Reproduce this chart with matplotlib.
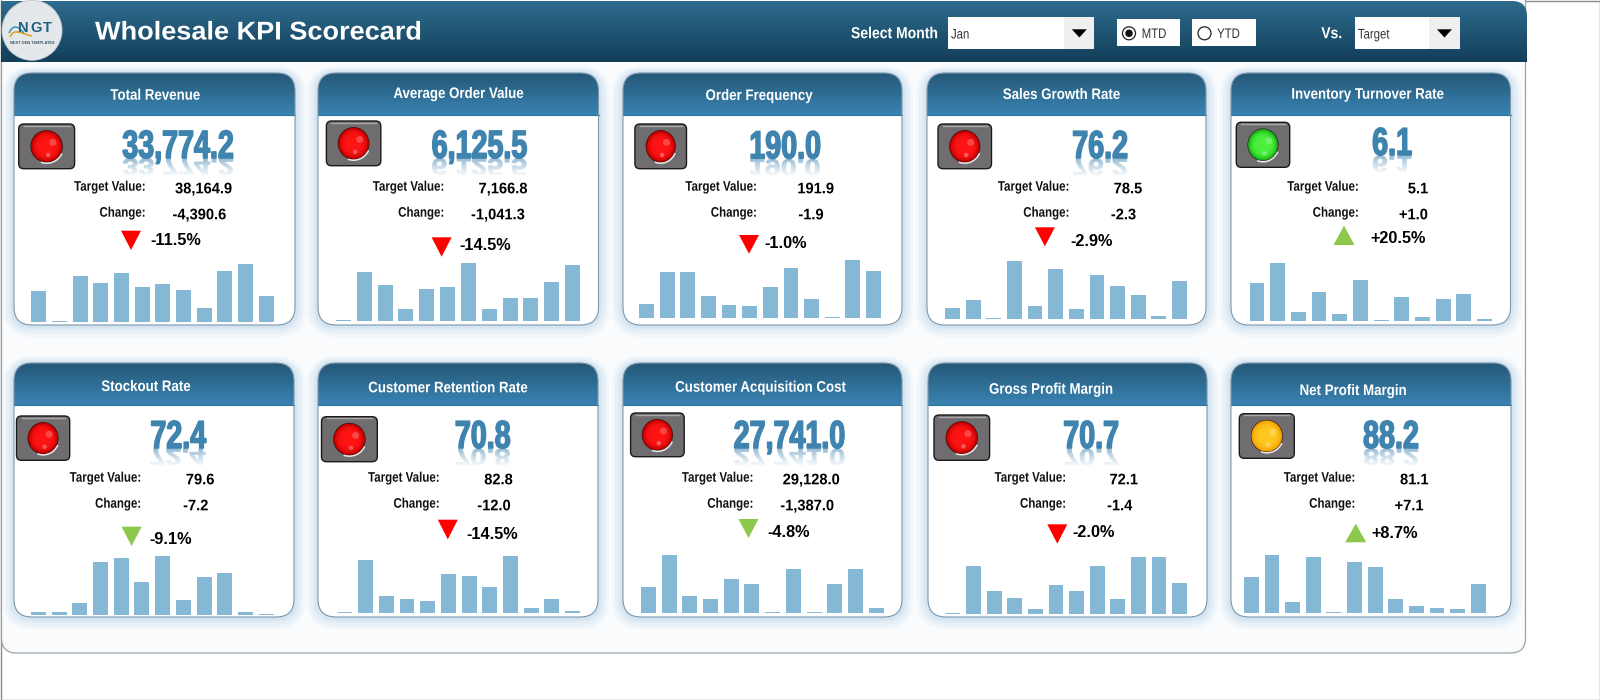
import numpy as np
import matplotlib
matplotlib.use('Agg')
import matplotlib.pyplot as plt
from matplotlib.patches import FancyBboxPatch, Ellipse, Polygon, Rectangle, PathPatch, Arc
from matplotlib.patheffects import AbstractPathEffect
from matplotlib.path import Path
from matplotlib.textpath import TextPath
from matplotlib.font_manager import FontProperties
from matplotlib.transforms import Affine2D

# data
titles = ['Total Revenue', 'Average Order Value', 'Order Frequency', 'Sales Growth Rate',
          'Inventory Turnover Rate', 'Stockout Rate', 'Customer Retention Rate',
          'Customer Acquisition Cost', 'Gross Profit Margin', 'Net Profit Margin']
actual = ['33,774.2', '6,125.5', '190.0', '76.2', '6.1', '72.4', '70.8', '27,741.0', '70.7', '88.2']
target = ['38,164.9', '7,166.8', '191.9', '78.5', '5.1', '79.6', '82.8', '29,128.0', '72.1', '81.1']
change = ['-4,390.6', '-1,041.3', '-1.9', '-2.3', '+1.0', '-7.2', '-12.0', '-1,387.0', '-1.4', '+7.1']
percent = ['-11.5%', '-14.5%', '-1.0%', '-2.9%', '+20.5%', '-9.1%', '-14.5%', '-4.8%', '-2.0%', '+8.7%']
lamp_state = ['red', 'red', 'red', 'red', 'green', 'red', 'red', 'red', 'red', 'amber']
arrow_state = ['down_red', 'down_red', 'down_red', 'down_red', 'up_green',
               'down_green', 'down_red', 'down_green', 'down_red', 'up_green']

# monthly bars
total_revenue = [94, 4, 138, 118, 149, 107, 115, 96, 44, 153, 174, 79]
avg_order_value = [3, 147, 109, 37, 96, 102, 173, 37, 68, 68, 117, 167]
order_frequency = [41, 137, 137, 65, 37, 35, 93, 148, 56, 2, 173, 141]
sales_growth = [34, 56, 3, 173, 38, 149, 30, 132, 100, 72, 9, 114]
inventory_turnover = [114, 174, 27, 86, 22, 122, 2, 71, 12, 65, 82, 5]
stockout_rate = [8, 8, 36, 159, 170, 99, 176, 44, 115, 127, 8, 3]
retention_rate = [3, 159, 50, 41, 37, 118, 111, 78, 172, 14, 43, 6]
acquisition_cost = [78, 173, 50, 41, 103, 88, 3, 131, 3, 88, 133, 14]
gross_margin = [3, 145, 71, 50, 15, 88, 71, 145, 45, 173, 173, 94]
net_margin = [109, 173, 34, 167, 3, 152, 139, 41, 22, 16, 13, 86]
bars = [total_revenue, avg_order_value, order_frequency, sales_growth, inventory_turnover,
        stockout_rate, retention_rate, acquisition_cost, gross_margin, net_margin]
months = ['Jan', 'Feb', 'Mar', 'Apr', 'May', 'Jun', 'Jul', 'Aug', 'Sep', 'Oct', 'Nov', 'Dec']

# layout in pixels
W, H = 1600, 700
card_x = [(14, 295), (318, 598.5), (623, 902), (927, 1206), (1231, 1510.5),
          (14, 294), (318, 598), (623, 902), (928, 1207), (1231, 1511)]
card_y = [(73, 115, 325)] * 5 + [(363, 405, 617)] * 5
title_xy = [(155.4, 95.7), (458.5, 94), (759, 96), (1061.5, 95), (1367.6, 94.7),
            (146, 387), (448, 388.3), (760.7, 387.7), (1051, 389.7), (1353, 391)]
lamp_box = [(18.7, 74.6, 124, 168.7), (326.4, 380.8, 121, 165.7), (634.9, 686.5, 124, 168.7),
            (938, 991.5, 124, 168.7), (1236.3, 1289.7, 122.3, 167.3), (16.5, 69.7, 416, 460.3),
            (321.5, 377.3, 416.7, 461.7), (630.6, 684.2, 413, 456.7), (934, 989.6, 415, 460.3),
            (1239.3, 1294.3, 413.7, 458.3)]
number_xy = [(178, 157.7), (479.3, 157.7), (785, 158.3), (1100, 158), (1392, 155),
             (178, 448), (482.6, 448), (789.4, 448), (1091, 448), (1391, 448)]
label_right = [146, 444.7, 757.3, 1069.8, 1359.2, 141.6, 440, 753.8, 1066.5, 1355.7]
target_x = [203.6, 502.9, 815.7, 1127.9, 1418, 200, 498.5, 811.3, 1123.7, 1414.3]
change_x = [199.4, 498, 811, 1123.5, 1413.4, 195.7, 494, 807.2, 1119.7, 1409]
arrow_xy = [(131, 230.7, 250), (441.6, 237.3, 256.7), (749, 235, 253.7), (1044.9, 227.3, 246.3),
            (1344, 225.7, 245), (131.6, 526.7, 546), (447.8, 519.7, 539.3), (748.5, 519, 538),
            (1057.3, 524.3, 543.7), (1355.7, 523.7, 542.3)]
pct_xy = [(150, 240.7), (458.9, 245.3), (764.6, 243.3), (1070.3, 241.7), (1370, 238.3),
          (148.9, 539.3), (466.5, 534.3), (766.9, 532.3), (1071.9, 532.3), (1371.7, 533.3)]
bar_span = [(31.4, 273.6, 322.3), (336, 580, 321), (639, 881, 317.7), (945, 1187, 319),
            (1249.5, 1492, 321), (31, 273.6, 615), (337.5, 580, 613), (641, 883.6, 613),
            (945.6, 1187, 614.3), (1244, 1485.7, 613)]

ARIAL = ['Liberation Sans', 'DejaVu Sans']
lamp_colors = {'red': ('#C00000', '#FF1414'), 'green': ('#16B016', '#4CF03C'), 'amber': ('#F0A000', '#FFC81E')}
BLUE = '#3F83AF'
BAR = '#85B8D5'


class Squeeze(AbstractPathEffect):
    # narrows the glyphs of a text sideways, no condensed font is installed
    def __init__(self, sx, anchor='center', bold=0):
        super().__init__()
        self.sx, self.anchor, self.bold = sx, anchor, bold

    def draw_path(self, renderer, gc, tpath, affine, rgbFace=None):
        ext = tpath.get_extents()
        c = {'left': ext.x0, 'right': ext.x1, 'center': (ext.x0 + ext.x1) / 2}[self.anchor]
        tr = Affine2D().translate(-c, 0).scale(self.sx, 1).translate(c, 0) + affine
        if self.bold:
            gc0 = renderer.new_gc()
            gc0.copy_properties(gc)
            gc0.set_foreground(rgbFace)
            gc0.set_linewidth(self.bold)
            renderer.draw_path(gc0, tpath, tr, rgbFace)
            gc0.restore()
        else:
            renderer.draw_path(gc, tpath, tr, rgbFace)


def gradient(ax, box, top, bottom, clip=None, z=2):
    x0, x1, y0, y1 = box
    c0 = np.array(matplotlib.colors.to_rgb(top))
    c1 = np.array(matplotlib.colors.to_rgb(bottom))
    t = np.linspace(0, 1, 64)[:, None, None]
    img = (c0 * (1 - t) + c1 * t)
    im = ax.imshow(img, extent=(x0, x1, y1, y0), aspect='auto', zorder=z, interpolation='bilinear')
    if clip is not None:
        im.set_clip_path(clip)
    return im


fig = plt.figure(figsize=(W / 100, H / 100), dpi=100, facecolor='white')
ax = fig.add_axes([0, 0, 1, 1])
ax.set_axis_off()

# page frame and panel
ax.add_patch(Rectangle((0.5, 0.5), W - 1, H - 1, fc='white', ec='#8A8A8A', lw=1, zorder=0))
panel = FancyBboxPatch((1.5, -30), 1524, 683, boxstyle='round,pad=0,rounding_size=15',
                       fc='#F9FBFD', ec='#9AA2A7', lw=0.9, zorder=1)
ax.add_patch(panel)

# header band, only the top right corner is round
head_path = Path([(1, 1), (1512, 1), (1527, 1), (1527, 16), (1527, 62), (1, 62), (1, 1)],
                 [Path.MOVETO, Path.LINETO, Path.CURVE3, Path.CURVE3, Path.LINETO, Path.LINETO, Path.CLOSEPOLY])
head_clip = PathPatch(head_path, fc='none', ec='none', zorder=2)
ax.add_patch(head_clip)
gradient(ax, (1, 1527, 0, 62), '#2F6C8F', '#123F5A', clip=head_clip)
ax.text(95, 32.5, 'Wholesale KPI Scorecard', color='white', fontsize=18.5, fontweight='bold',
        family=ARIAL, va='center', ha='left', zorder=5, path_effects=[Squeeze(1.055, 'left')])

# logo
ax.add_patch(Ellipse((32, 30.3), 60, 60, fc='#E4E8EA', ec='#C8CED2', lw=0.6, zorder=4))
for letter, lx in zip('NGT', (23, 36, 47)):
    ax.text(lx, 28.5, letter, color='#1F6080', fontsize=10.5, fontweight='bold', family=ARIAL,
            ha='center', va='center', zorder=6)
swoosh = Path([(10, 37), (14, 28), (20, 33), (32, 36)], [Path.MOVETO, Path.CURVE4, Path.CURVE4, Path.CURVE4])
ax.add_patch(PathPatch(swoosh, fc='none', ec='#E2A32C', lw=1.2, zorder=5))
swoosh2 = Path([(9, 33), (13, 24), (18, 26), (24, 33)], [Path.MOVETO, Path.CURVE4, Path.CURVE4, Path.CURVE4])
ax.add_patch(PathPatch(swoosh2, fc='none', ec='#2E8FA8', lw=1.0, zorder=5))
ax.text(32, 43.5, 'NEXT GEN TEMPLATES', color='#35505F', fontsize=2.8, fontweight='bold',
        family=ARIAL, ha='center', va='center', zorder=6)


# header controls
def combo(x0, x1, btn, label):
    ax.add_patch(Rectangle((x0, 17.3), x1 - x0, 31.7, fc='white', ec='none', zorder=4))
    ax.add_patch(Rectangle((btn, 17.3), x1 - btn, 31.7, fc='#EFEFEF', ec='none', zorder=4))
    c = (btn + x1) / 2
    ax.add_patch(Polygon([(c - 7.5, 29.3), (c + 7.5, 29.3), (c, 37.5)], fc='black', ec='none', zorder=5))
    ax.text(x0 + 3, 34.5, label, color='#333333', fontsize=10, family=ARIAL, ha='left', va='center',
            zorder=5, path_effects=[Squeeze(0.82, 'left')])


def radio(x0, x1, cx, label, selected):
    ax.add_patch(Rectangle((x0, 19.3), x1 - x0, 26.7, fc='white', ec='none', zorder=4))
    ax.add_patch(Ellipse((cx, 33.3), 13, 13, fc='white', ec='#222222', lw=0.9, zorder=5))
    if selected:
        ax.add_patch(Ellipse((cx, 33.3), 7.5, 7.5, fc='#111111', ec='none', zorder=6))
    ax.text(cx + 12.5, 34, label, color='#333333', fontsize=10, family=ARIAL, ha='left', va='center',
            zorder=5, path_effects=[Squeeze(0.82, 'left')])


ax.text(894.8, 33.7, 'Select Month', color='white', fontsize=11.5, fontweight='bold', family=ARIAL,
        ha='center', va='center', zorder=5, path_effects=[Squeeze(0.875)])
combo(947.9, 1094.3, 1064.4, months[0])
radio(1116.8, 1180, 1129, 'MTD', True)
radio(1191.8, 1256, 1204.5, 'YTD', False)
ax.text(1331.8, 33.7, 'Vs.', color='white', fontsize=11.5, fontweight='bold', family=ARIAL,
        ha='center', va='center', zorder=5, path_effects=[Squeeze(0.87)])
combo(1354.8, 1459.6, 1429.3, 'Target')


def draw_lamp(box, state):
    x0, x1, y0, y1 = box
    ax.add_patch(FancyBboxPatch((x0, y0), x1 - x0, y1 - y0, boxstyle='round,pad=0,rounding_size=5',
                                fc='#6F6D6F', ec='#1A1A1A', lw=1.0, zorder=5))
    ax.plot([x0 + 5, x1 - 5], [y0 + 1.6, y0 + 1.6], color='#A8A6A8', lw=1, zorder=6)
    cx, cy = (x0 + x1) / 2, (y0 + y1) / 2
    rx, ry = (x1 - x0) * 0.28, (y1 - y0) * 0.35
    ax.add_patch(Ellipse((cx, cy), 2 * rx + 1.2, 2 * ry + 1.2, fc='#2A1414', ec='none', zorder=6))
    dark, light = lamp_colors[state]
    c0 = np.array(matplotlib.colors.to_rgb(dark))
    c1 = np.array(matplotlib.colors.to_rgb(light))
    for k, f in enumerate(np.linspace(1, 0.2, 9)):
        col = c0 * f ** 5 + c1 * (1 - f ** 5)
        ax.add_patch(Ellipse((cx, cy), 2 * rx * f, 2 * ry * f, fc=col, ec='none', zorder=6.1 + k * 0.01))
    ax.add_patch(Ellipse((cx + rx * 0.4, cy - ry * 0.25), 7, 7, fc='white', alpha=0.22, ec='none', zorder=6.3))
    ax.add_patch(Ellipse((cx + rx * 0.1, cy + ry * 0.55), 4.5, 4.5, fc='white', alpha=0.3, ec='none', zorder=6.3))
    ax.add_patch(Arc((cx, cy), 2 * rx + 2.5, 2 * ry + 2.5, theta1=25, theta2=110, color='#E8E8E8', lw=1.1, zorder=6.3))


def draw_number(x, base, s, z=5):
    size_px = 39.0
    sx = 0.735
    fp = FontProperties(family=ARIAL, weight='bold')
    tp = TextPath((0, 0), s, size=size_px, prop=fp)
    ext = tp.get_extents()
    # faded mirror image under the number
    tr = (Affine2D().translate(-(ext.x0 + ext.x1) / 2, 0).scale(sx, 0.6).translate(x, base + 1)
          + ax.transData)
    ax.add_patch(PathPatch(tp, fc=BLUE, ec=BLUE, lw=0.6, transform=tr, zorder=z))
    fade = np.ones((32, 1, 4))
    fade[:, 0, 3] = np.linspace(0.35, 1, 32) ** 0.7
    w = ext.width * sx / 2 + 4
    ax.imshow(fade, extent=(x - w, x + w, base + 19, base + 1), aspect='auto', zorder=z + 0.1, interpolation='bilinear')
    ax.text(x, base, s, color=BLUE, fontsize=size_px * 0.72, fontweight='bold', family=ARIAL,
            ha='center', va='baseline', zorder=z + 0.2, path_effects=[Squeeze(sx, 'center', 1.1)])


for i, title in enumerate(titles):
    x0, x1 = card_x[i]
    top, head, bot = card_y[i]
    # soft glow around the card
    for grow, a in zip((11, 8, 5, 3), (0.12, 0.16, 0.2, 0.25)):
        ax.add_patch(FancyBboxPatch((x0 - grow, top - grow * 0.6), x1 - x0 + 2 * grow, bot - top + grow * 1.7,
                                    boxstyle='round,pad=0,rounding_size=%g' % (18 + grow),
                                    fc='#B9D6EA', ec='none', alpha=a, zorder=2))
    card = FancyBboxPatch((x0, top), x1 - x0, bot - top, boxstyle='round,pad=0,rounding_size=18',
                          fc='white', ec='none', zorder=3)
    ax.add_patch(card)
    gradient(ax, (x0, x1, top, head), '#255877', '#3983B2', clip=card, z=3.1)
    ax.plot([x0, x1], [head, head], color='#2F6F97', lw=0.8, zorder=3.2)
    ax.add_patch(FancyBboxPatch((x0, top), x1 - x0, bot - top, boxstyle='round,pad=0,rounding_size=18',
                                fc='none', ec='#7C98AC', lw=0.8, zorder=3.3))

    tx, ty = title_xy[i]
    ax.text(tx, ty, title, color='white', fontsize=11, fontweight='bold', family=ARIAL,
            ha='center', va='center', zorder=5, path_effects=[Squeeze(0.87)])

    draw_lamp(lamp_box[i], lamp_state[i])
    draw_number(number_xy[i][0], number_xy[i][1], actual[i])

    row_y = top + 113.7 if i < 5 else top + 114.7
    ax.text(label_right[i], row_y, 'Target Value:', color='#111111', fontsize=10, fontweight='bold',
            family=ARIAL, ha='right', va='center', zorder=6, path_effects=[Squeeze(0.83, 'right')])
    ax.text(label_right[i], row_y + 26, 'Change:', color='#111111', fontsize=10, fontweight='bold',
            family=ARIAL, ha='right', va='center', zorder=6, path_effects=[Squeeze(0.83, 'right')])
    ax.text(target_x[i], row_y + 2.6, target[i], color='black', fontsize=11, fontweight='bold',
            family=ARIAL, ha='center', va='center', zorder=6, path_effects=[Squeeze(0.96)])
    ax.text(change_x[i], row_y + 28.6, change[i], color='black', fontsize=11, fontweight='bold',
            family=ARIAL, ha='center', va='center', zorder=6, path_effects=[Squeeze(0.96)])

    ax_, ya, yb = arrow_xy[i]
    color = '#FF0000' if arrow_state[i].endswith('red') else '#8CC84B'
    if arrow_state[i].startswith('down'):
        pts = [(ax_ - 10, ya), (ax_ + 10, ya), (ax_, yb)]
    else:
        pts = [(ax_ - 10.5, yb), (ax_ + 10.5, yb), (ax_, ya)]
    ax.add_patch(Polygon(pts, fc=color, ec='none', zorder=5))
    ax.text(pct_xy[i][0], pct_xy[i][1], percent[i], color='black', fontsize=11.7, fontweight='bold',
            family=ARIAL, ha='left', va='center', zorder=5)

ax.set_xlim(0, W)
ax.set_ylim(H, 0)

# monthly columns, one small axes per card
for i, vals in enumerate(bars):
    bx0, bx1, base = bar_span[i]
    height = 60
    sub = fig.add_axes([bx0 / W, 1 - base / H, (bx1 - bx0) / W, height / H], zorder=10)
    sub.patch.set_alpha(0)
    sub.set_axis_off()
    sub.bar(range(len(vals)), vals, width=0.72, color=BAR, linewidth=0)
    sub.set_xlim(-0.36, len(vals) - 1 + 0.36)
    sub.set_ylim(0, 180)

fig.savefig('out.png', dpi=100)
